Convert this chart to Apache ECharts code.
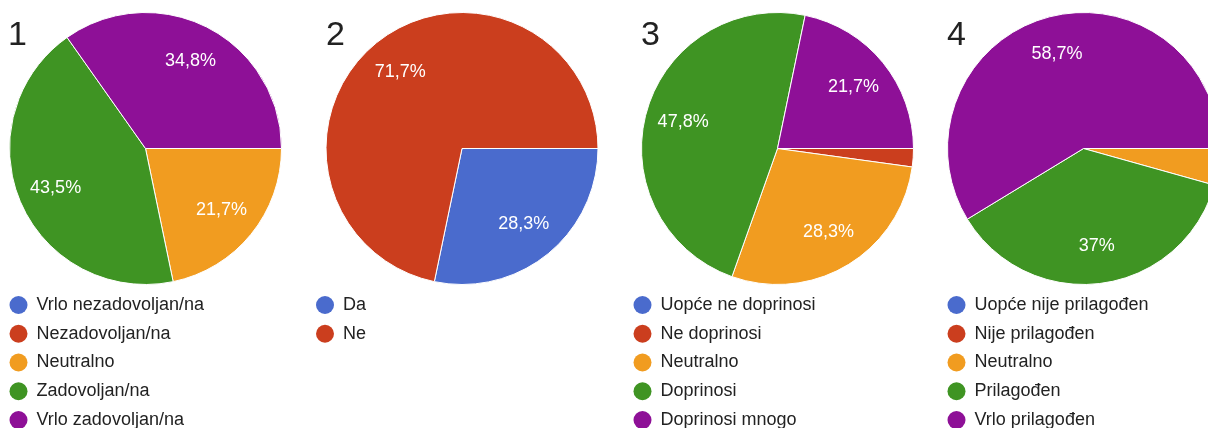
<!DOCTYPE html>
<html>
<head>
<meta charset="utf-8">
<script src="https://cdn.jsdelivr.net/npm/echarts@6/dist/echarts.min.js"></script>
<style>
  html, body { margin: 0; padding: 0; background: #fff; }
  #chart { width: 1208px; height: 428px; }
</style>
</head>
<body>
<div id="chart"></div>
<script>
// Slice colours, in answer order
const palette = ['#4a6bcd', '#cb3e1e', '#f19c20', '#3f9423', '#8e1097'];

// Question numbers shown above each pie
const questionNumbers = ['1', '2', '3', '4'];

// Question 1
const answers1 = ['Vrlo nezadovoljan/na', 'Nezadovoljan/na', 'Neutralno', 'Zadovoljan/na', 'Vrlo zadovoljan/na'];
const counts1 = [0, 0, 10, 20, 16];

// Question 2
const answers2 = ['Da', 'Ne'];
const counts2 = [13, 33];

// Question 3
const answers3 = ['Uopće ne doprinosi', 'Ne doprinosi', 'Neutralno', 'Doprinosi', 'Doprinosi mnogo'];
const counts3 = [0, 1, 13, 22, 10];

// Question 4
const answers4 = ['Uopće nije prilagođen', 'Nije prilagođen', 'Neutralno', 'Prilagođen', 'Vrlo prilagođen'];
const counts4 = [0, 0, 2, 17, 27];

const questions = [
  { answers: answers1, counts: counts1 },
  { answers: answers2, counts: counts2 },
  { answers: answers3, counts: counts3 },
  { answers: answers4, counts: counts4 }
];

// Layout of the four panels
const centersX = [145.5, 462, 777.5, 1083.5];
const centerY = 148.5;
const pieRadius = 136;
const labelInner = 54;          // inner edge of the label ring, puts labels at ~0.7 r
const numberX = [8, 326, 641, 947];
const legendX = [9.5, 316, 633.5, 947.5];

const FONT = '"Liberation Sans", Arial, sans-serif';

function pctText(p) {
  if (p.percent < 5) return '';
  return String(p.percent).replace('.', ',') + '%';
}

const series = [];
const legends = [];
const titles = [];

questions.forEach((q, i) => {
  const data = q.answers.map((name, k) => ({
    name: name,
    value: q.counts[k],
    itemStyle: { color: palette[k] }
  }));

  // filled pie
  series.push({
    type: 'pie',
    center: [centersX[i], centerY],
    radius: [0, pieRadius],
    startAngle: 0,
    clockwise: true,
    avoidLabelOverlap: false,
    animation: false,
    silent: true,
    percentPrecision: 1,
    itemStyle: { borderColor: '#ffffff', borderWidth: 1 },
    label: { show: false },
    labelLine: { show: false },
    emphasis: { disabled: true },
    data: data
  });

  // transparent ring carrying the percentage labels
  series.push({
    type: 'pie',
    center: [centersX[i], centerY],
    radius: [labelInner, pieRadius],
    startAngle: 0,
    clockwise: true,
    avoidLabelOverlap: false,
    animation: false,
    silent: true,
    percentPrecision: 1,
    itemStyle: { color: 'rgba(0,0,0,0)', borderWidth: 0 },
    label: {
      show: true,
      position: 'inside',
      formatter: pctText,
      color: '#ffffff',
      fontSize: 18,
      fontFamily: FONT
    },
    labelLine: { show: false },
    emphasis: { disabled: true },
    data: q.answers.map((name, k) => ({ name: name, value: q.counts[k] }))
  });

  legends.push({
    orient: 'vertical',
    left: legendX[i],
    top: 296,
    height: 200,
    padding: 0,
    icon: 'circle',
    itemWidth: 18,
    itemHeight: 18,
    itemGap: 10.75,
    selectedMode: false,
    itemStyle: { borderWidth: 0 },
    textStyle: {
      fontSize: 18,
      lineHeight: 18,
      color: '#222222',
      fontFamily: FONT,
      padding: [0, 0, 0, 4]
    },
    data: q.answers.map((name, k) => ({ name: name, itemStyle: { color: palette[k], borderWidth: 0 } }))
  });

  titles.push({
    text: questionNumbers[i],
    left: numberX[i],
    top: 19,
    padding: 0,
    textStyle: {
      fontSize: 34,
      fontWeight: 'normal',
      color: '#222222',
      fontFamily: FONT
    }
  });
});

const chart = echarts.init(document.getElementById('chart'), null, { renderer: 'canvas' });
chart.setOption({
  backgroundColor: '#ffffff',
  animation: false,
  title: titles,
  legend: legends,
  tooltip: { show: false },
  series: series
});
</script>
</body>
</html>
